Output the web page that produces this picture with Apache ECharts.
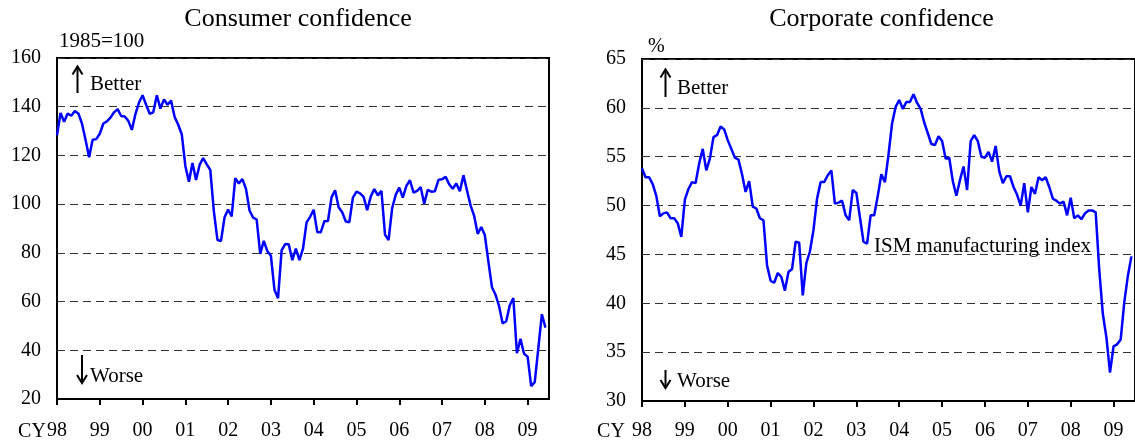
<!DOCTYPE html>
<html>
<head>
<meta charset="utf-8">
<script src="https://cdn.jsdelivr.net/npm/echarts@6/dist/echarts.min.js"></script>
<style>
  html, body { margin: 0; padding: 0; background: #fff; }
  #chart { width: 1135px; height: 447px; }
</style>
</head>
<body>
<div id="chart"></div>
<script>
// monthly, Jan 1998 .. Jun 2009
const consumer = [
  128.3, 137.4, 133.8, 137.2, 136.3, 138.2, 137.2, 133.1, 126.4, 119.3, 126.4, 126.7,
  128.9, 133.1, 134.0, 135.5, 137.7, 139.0, 136.2, 136.0, 134.2, 130.5, 137.0, 141.7,
  144.7, 140.8, 137.1, 137.7, 144.7, 139.2, 143.0, 140.8, 142.5, 135.8, 132.6, 128.6,
  115.7, 109.2, 116.9, 109.9, 116.1, 118.9, 116.3, 114.0, 97.0, 85.3, 84.9, 94.6,
  97.8, 95.0, 110.7, 108.5, 110.3, 106.3, 97.4, 94.5, 93.7, 79.6, 84.9, 80.7,
  78.8, 64.8, 61.4, 81.0, 83.6, 83.5, 77.0, 81.7, 77.0, 81.7, 92.5, 94.8,
  97.7, 88.5, 88.5, 93.0, 93.1, 102.8, 105.7, 98.7, 96.7, 92.9, 92.6, 102.7,
  105.1, 104.4, 103.0, 97.5, 103.1, 106.2, 103.6, 105.5, 87.5, 85.2, 98.3, 103.8,
  106.8, 102.7, 107.5, 109.8, 104.7, 105.4, 107.0, 100.2, 105.9, 105.1, 105.3, 110.0,
  110.2, 111.2, 108.2, 106.3, 108.5, 105.3, 111.9, 105.6, 99.5, 95.2, 87.8, 90.6,
  87.3, 76.4, 65.9, 62.8, 58.1, 51.0, 51.9, 58.5, 61.4, 38.8, 44.7, 38.6,
  37.4, 25.3, 26.9, 40.8, 54.8, 49.3
];

const ism = [
  53.8, 52.9, 52.9, 52.2, 51.0, 48.9, 49.2, 49.3, 48.7, 48.7, 48.2, 46.8,
  50.6, 51.7, 52.4, 52.3, 54.3, 55.8, 53.6, 54.8, 57.0, 57.2, 58.1, 57.8,
  56.7, 55.8, 54.9, 54.7, 53.2, 51.4, 52.5, 49.9, 49.7, 48.7, 48.5, 43.9,
  42.3, 42.1, 43.1, 42.7, 41.3, 43.2, 43.5, 46.3, 46.2, 40.8, 44.1, 45.3,
  47.5, 50.7, 52.4, 52.4, 53.1, 53.6, 50.2, 50.3, 50.5, 49.0, 48.5, 51.6,
  51.3, 48.8, 46.3, 46.1, 49.0, 49.0, 51.0, 53.2, 52.4, 55.2, 58.4, 60.1,
  60.8, 59.9, 60.6, 60.6, 61.4, 60.5, 59.9, 58.5, 57.4, 56.3, 56.2, 57.1,
  56.6, 54.8, 54.9, 52.5, 51.0, 52.6, 54.0, 51.6, 56.6, 57.2, 56.6, 55.0,
  54.9, 55.5, 54.5, 56.1, 53.5, 52.3, 53.0, 53.0, 51.9, 51.1, 50.0, 52.3,
  49.3, 51.9, 51.2, 52.9, 52.6, 52.9, 51.9, 50.7, 50.5, 50.2, 50.4, 49.0,
  50.8, 48.7, 49.0, 48.6, 49.2, 49.5, 49.5, 49.3, 43.4, 38.9, 36.5, 32.9,
  35.6, 35.8, 36.3, 40.1, 42.8, 44.8
];

const yearLabels = ['98', '99', '00', '01', '02', '03', '04', '05', '06', '07', '08', '09'];

const font = 'Liberation Serif, Times New Roman, serif';
const yearTicks = yearLabels.map((_, i) => i * 12);
const toPairs = arr => arr.map((v, i) => [i, v]);

function xAxis(gridIndex, margin) {
    return {
        type: 'value', gridIndex, min: 0, max: 138,
        axisLine: { show: true, lineStyle: { color: '#000', width: 2 } },
        axisTick: { show: true, inside: false, length: 6, lineStyle: { color: '#000', width: 2 }, customValues: yearTicks },
        axisLabel: {
            customValues: yearTicks, margin, color: '#000', fontFamily: font, fontSize: 20,
            formatter: v => yearLabels[Math.round(v / 12)] || ''
        },
        splitLine: { show: false }
    };
}

function yAxis(gridIndex, min, max, interval) {
    return {
        type: 'value', gridIndex, min, max, interval,
        axisLine: { show: false },
        axisTick: { show: false },
        axisLabel: { color: '#000', fontFamily: font, fontSize: 20, margin: 16 },
        splitLine: { show: true, lineStyle: { color: '#333', width: 1.2, type: [8, 5] } }
    };
}

function txt(x, y, text, size, align) {
    return {
        type: 'text', x, y, silent: true,
        style: { text, fill: '#000', font: size + 'px ' + font, align: align || 'left', verticalAlign: 'middle' }
    };
}

function arrow(x, y1, y2) {
    // y1 = tail, y2 = tip
    const d = y2 > y1 ? -1 : 1;
    return {
        type: 'group', silent: true,
        children: [
            { type: 'line', shape: { x1: x, y1, x2: x, y2 }, style: { stroke: '#000', lineWidth: 2 } },
            { type: 'polyline', shape: { points: [[x - 5, y2 + d * 8], [x, y2], [x + 5, y2 + d * 8]] }, style: { stroke: '#000', lineWidth: 2, fill: null } }
        ]
    };
}

const chart = echarts.init(document.getElementById('chart'));
chart.setOption({
    animation: false,
    backgroundColor: '#fff',
    grid: [
        { left: 57, top: 58, width: 492, height: 341, show: true, borderColor: '#000', borderWidth: 2, backgroundColor: 'transparent' },
        { left: 642, top: 59, width: 496, height: 342, show: true, borderColor: '#000', borderWidth: 2, backgroundColor: 'transparent' }
    ],
    xAxis: [xAxis(0, 22), xAxis(1, 20)],
    yAxis: [yAxis(0, 20, 160, 20), yAxis(1, 30, 65, 5)],
    series: [
        {
            type: 'line', xAxisIndex: 0, yAxisIndex: 0, data: toPairs(consumer),
            showSymbol: false, lineStyle: { color: '#0000ff', width: 2.5 }
        },
        {
            type: 'line', xAxisIndex: 1, yAxisIndex: 1, data: toPairs(ism),
            showSymbol: false, lineStyle: { color: '#0000ff', width: 2.5 }
        }
    ],
    graphic: [
        txt(298, 18.7, 'Consumer confidence', 26, 'center'),
        txt(881.5, 18.7, 'Corporate confidence', 26, 'center'),
        txt(59, 41, '1985=100', 21),
        txt(648, 46.5, '%', 20),
        arrow(77.5, 93, 66.5), txt(90, 84, 'Better', 21),
        arrow(82, 355, 383), txt(90, 376, 'Worse', 21),
        arrow(665.5, 97, 69.5), txt(677, 88, 'Better', 21),
        arrow(665.5, 370, 388), txt(677, 381, 'Worse', 21),
        txt(874, 246.5, 'ISM manufacturing index', 21),
        txt(32, 431.7, 'CY', 20, 'center'),
        txt(611, 431.7, 'CY', 20, 'center')
    ]
});
</script>
</body>
</html>
